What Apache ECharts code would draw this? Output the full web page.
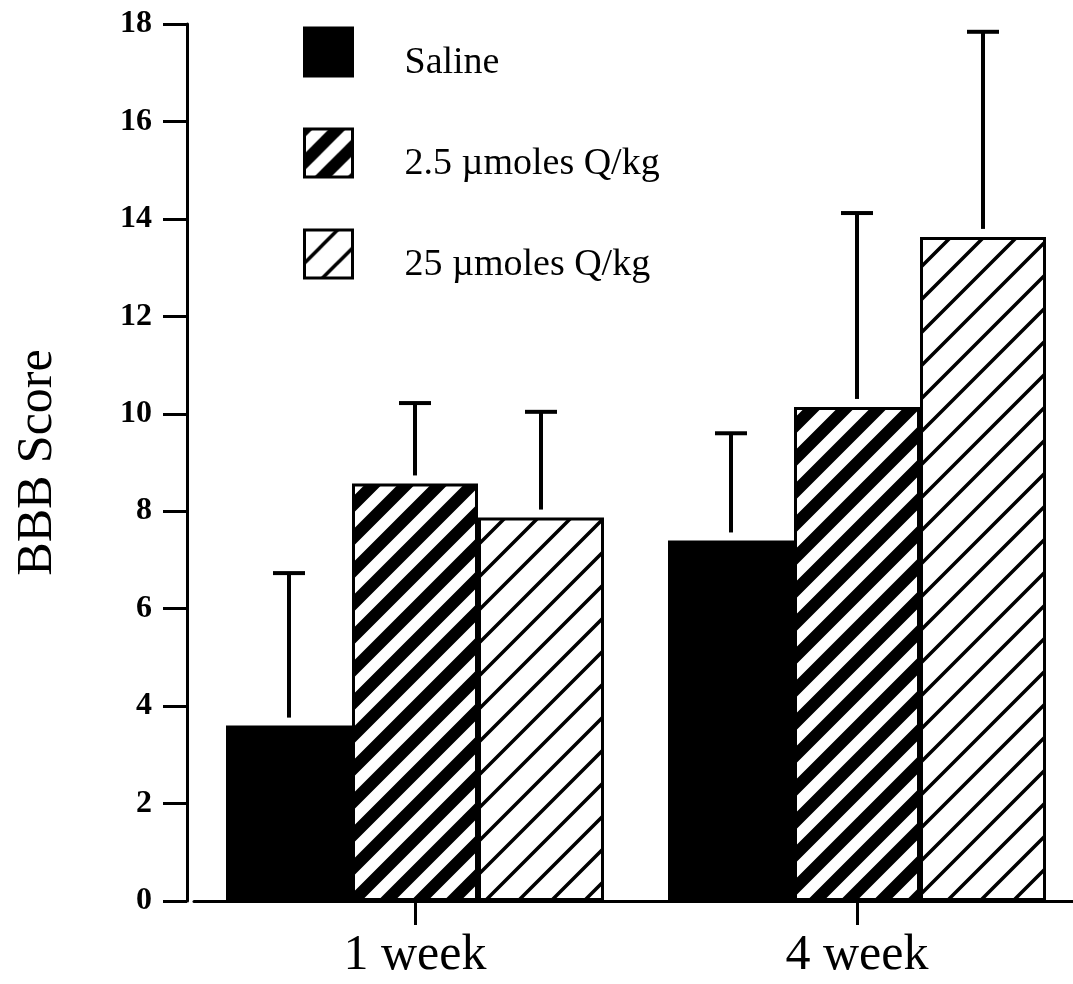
<!DOCTYPE html>
<html>
<head>
<meta charset="utf-8">
<script src="https://cdn.jsdelivr.net/npm/echarts@6/dist/echarts.min.js"></script>
<style>html,body{margin:0;padding:0;background:#fff;}#chart{width:1073px;height:984px;}</style>
</head>
<body>
<div id="chart"></div>
<script>
const categories = ['1 week', '4 week'];
const seriesNames = ['Saline', '2.5 \u00b5moles Q/kg', '25 \u00b5moles Q/kg'];
const salineMean = [3.6, 7.4];
const salineErrTop = [6.73, 9.6];
const lowDoseMean = [8.57, 10.14];
const lowDoseErrTop = [10.22, 14.12];
const highDoseMean = [7.87, 13.63];
const highDoseErrTop = [10.04, 17.84];
const yTicks = { min: 0, max: 18, interval: 2 };

const FONT = '"Liberation Serif", "DejaVu Serif", serif';
const BAR_W = 126;

function makeHatch(period, lw) {
  const size = period * 2;
  const c = document.createElement('canvas');
  c.width = size; c.height = size;
  const ctx = c.getContext('2d');
  ctx.fillStyle = '#fff';
  ctx.fillRect(0, 0, size, size);
  ctx.strokeStyle = '#000';
  ctx.lineWidth = lw;
  ctx.beginPath();
  for (let k = -4; k <= 4; k++) {
    const off = k * period;
    ctx.moveTo(off - size, 2 * size);
    ctx.lineTo(off + 2 * size, -size);
  }
  ctx.stroke();
  return c;
}
const thickHatch = { image: makeHatch(33, 12), repeat: 'repeat' };
const thinHatch = { image: makeHatch(33, 3.5), repeat: 'repeat' };

const means = [salineMean, lowDoseMean, highDoseMean];
const tops = [salineErrTop, lowDoseErrTop, highDoseErrTop];
const fills = ['#000', thickHatch, thinHatch];

const chart = echarts.init(document.getElementById('chart'), null, { renderer: 'canvas' });

const barSeries = seriesNames.map((name, i) => ({
  name: name,
  type: 'bar',
  data: means[i],
  barWidth: BAR_W,
  barGap: '0%',
  itemStyle: { color: fills[i], borderColor: '#000', borderWidth: 3 },
  z: 2
}));

const errSeries = seriesNames.map((name, i) => ({
  name: name + ' err',
  type: 'custom',
  z: 5,
  silent: true,
  data: categories.map((c, j) => [j, means[i][j], tops[i][j]]),
  renderItem: function (params, api) {
    const base = api.coord([api.value(0), api.value(1)]);
    const top = api.coord([api.value(0), api.value(2)]);
    const cx = base[0] + (i - 1) * BAR_W;
    const style = { stroke: '#000', lineWidth: 4 };
    return {
      type: 'group',
      children: [
        { type: 'line', shape: { x1: cx, y1: base[1] - 8, x2: cx, y2: top[1] }, style: style },
        { type: 'line', shape: { x1: cx - 16, y1: top[1], x2: cx + 16, y2: top[1] }, style: style }
      ]
    };
  }
}));

chart.setOption({
  animation: false,
  backgroundColor: '#fff',
  grid: { left: 194, top: 24, width: 884, bottom: 83, containLabel: false, outerBoundsMode: 'none' },
  legend: {
    data: seriesNames,
    orient: 'vertical',
    left: 298,
    top: 17,
    icon: 'rect',
    itemWidth: 48,
    itemHeight: 48,
    itemGap: 41,
    itemStyle: { borderColor: '#000', borderWidth: 3 },
    formatter: function (name) { return '{t|' + name + '}'; },
    textStyle: {
      fontFamily: FONT, fontSize: 38, color: '#000',
      rich: { t: { fontFamily: FONT, fontSize: 38, color: '#000', lineHeight: 40, padding: [22, 0, 0, 47] } }
    }
  },
  xAxis: {
    type: 'category',
    data: categories,
    axisLine: { show: true, lineStyle: { color: '#000', width: 3 } },
    axisTick: { show: true, alignWithLabel: true, length: 24, lineStyle: { color: '#000', width: 3 } },
    axisLabel: { fontFamily: FONT, fontSize: 50, color: '#000', margin: 30 },
    splitLine: { show: false }
  },
  yAxis: {
    type: 'value',
    min: yTicks.min,
    max: yTicks.max,
    interval: yTicks.interval,
    offset: 7,
    name: 'BBB Score',
    nameLocation: 'middle',
    nameGap: 124,
    nameRotate: 90,
    nameTextStyle: { fontFamily: FONT, fontSize: 50, color: '#000' },
    axisLine: { show: true, lineStyle: { color: '#000', width: 3 } },
    axisTick: { show: true, length: 24, lineStyle: { color: '#000', width: 3 } },
    axisLabel: { fontFamily: FONT, fontSize: 32, color: '#000', margin: 35, fontWeight: 'bold' },
    splitLine: { show: false }
  },
  series: barSeries.concat(errSeries)
});
</script>
</body>
</html>
